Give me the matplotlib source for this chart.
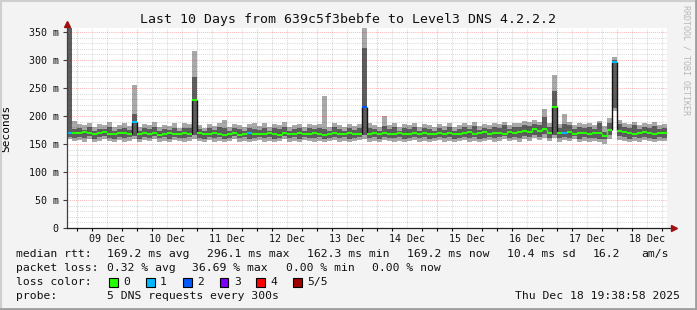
import numpy as np
import matplotlib
matplotlib.use('Agg')
import matplotlib.pyplot as plt
import matplotlib.dates as mdates
from matplotlib.patches import Rectangle
from matplotlib.lines import Line2D

# 2-hour bins from Dec 8 20:00, values in ms
start = np.datetime64('2025-12-08T20:00')
med = [170, 170,
       169, 171, 170, 168, 169, 171, 168, 167, 169, 170, 168, 190,
       167, 169, 168, 170, 166, 168, 169, 167, 168, 169, 167, 228,
       169, 167, 168, 170, 167, 166, 168, 169, 166, 167, 170, 168,
       168, 167, 169, 168, 166, 169, 167, 168, 170, 167, 168, 169,
       168, 166, 168, 169, 167, 168, 170, 167, 168, 216, 167, 169,
       168, 170, 168, 167, 169, 168, 167, 169, 168, 170, 167, 168,
       169, 167, 170, 168, 167, 169, 171, 168, 169, 171, 168, 170,
       170, 168, 172, 169, 171, 173, 172, 176, 174, 177, 170, 216,
       169, 170, 171, 168, 169, 170, 168, 169, 170, 165, 175, 296,
       174, 172, 170, 168, 169, 171, 169, 168, 170, 169]
q1 = [163, 161,
      162, 160, 164, 159, 162, 165, 160, 159, 163, 160, 162, 165,
      159, 163, 161, 164, 160, 162, 158, 163, 161, 160, 162, 166,
      161, 159, 163, 160, 162, 159, 161, 164, 160, 162, 159, 161,
      163, 160, 162, 159, 161, 164, 160, 162, 159, 163, 161, 160,
      162, 159, 161, 163, 160, 162, 159, 161, 163, 166, 160, 162,
      159, 163, 161, 160, 162, 159, 161, 163, 160, 162, 159, 161,
      163, 160, 162, 159, 161, 163, 160, 162, 159, 161, 163, 160,
      162, 164, 161, 163, 160, 165, 162, 166, 163, 168, 161, 166,
      160, 163, 161, 164, 159, 162, 160, 161, 159, 158, 166, 215,
      165, 162, 159, 162, 160, 163, 161, 159, 162, 161]
q3 = [360, 177,
      178, 175, 180, 174, 177, 176, 181, 173, 177, 179, 175, 203,
      173, 178, 176, 181, 174, 177, 175, 179, 173, 179, 178, 270,
      177, 173, 179, 175, 180, 178, 174, 178, 176, 174, 179, 176,
      175, 179, 173, 178, 176, 181, 174, 177, 179, 174, 178, 176,
      179, 177, 174, 180, 176, 173, 179, 175, 178, 322, 179, 176,
      174, 182, 177, 181, 173, 178, 176, 180, 174, 179, 177, 173,
      178, 175, 181, 174, 177, 180, 176, 182, 175, 179, 177, 181,
      179, 183, 177, 181, 180, 184, 182, 186, 183, 198, 181, 245,
      178, 186, 183, 176, 181, 178, 180, 177, 187, 172, 187, 300,
      185, 181, 179, 183, 177, 181, 178, 182, 176, 179]
lo = [158, 155,
      157, 154, 158, 153, 156, 159, 155, 153, 157, 154, 156, 158,
      153, 157, 155, 158, 154, 156, 153, 157, 155, 154, 156, 158,
      155, 153, 157, 154, 156, 153, 155, 158, 154, 156, 153, 155,
      157, 154, 156, 153, 155, 158, 154, 156, 153, 157, 155, 154,
      156, 153, 155, 157, 154, 156, 153, 155, 157, 158, 154, 156,
      153, 157, 155, 154, 156, 153, 155, 157, 154, 156, 153, 155,
      157, 154, 156, 153, 155, 157, 154, 156, 153, 155, 157, 154,
      156, 158, 155, 157, 154, 159, 156, 160, 157, 161, 155, 160,
      154, 157, 155, 158, 153, 156, 154, 155, 153, 150, 158, 208,
      157, 155, 153, 156, 154, 157, 155, 153, 156, 155]
hi = [360, 191,
      186, 184, 188, 181, 185, 183, 189, 180, 184, 187, 182, 255,
      180, 186, 183, 189, 181, 184, 182, 187, 179, 187, 185, 316,
      184, 179, 186, 182, 188, 193, 181, 185, 183, 180, 186, 187,
      182, 187, 180, 185, 183, 189, 181, 184, 186, 180, 185, 183,
      186, 235, 181, 187, 183, 180, 186, 182, 185, 357, 187, 183,
      181, 200, 184, 188, 180, 185, 183, 187, 181, 186, 184, 180,
      185, 182, 188, 181, 184, 187, 183, 189, 182, 186, 184, 188,
      186, 190, 184, 188, 187, 191, 189, 193, 190, 212, 188, 273,
      185, 204, 190, 183, 188, 185, 187, 184, 191, 182, 196, 305,
      192, 188, 186, 190, 184, 188, 185, 189, 183, 186]
loss = [1, 0,
        0, 0, 0, 0, 0, 0, 0, 0, 0, 0, 0, 1,
        0, 0, 0, 0, 0, 0, 0, 0, 0, 0, 0, 0,
        0, 0, 0, 0, 0, 0, 0, 0, 0, 0, 1, 0,
        0, 0, 0, 0, 0, 0, 0, 0, 0, 0, 0, 0,
        0, 0, 0, 0, 0, 0, 0, 0, 0, 2, 0, 0,
        0, 0, 0, 0, 0, 0, 0, 0, 0, 0, 0, 0,
        0, 0, 0, 0, 0, 0, 0, 0, 0, 0, 0, 0,
        0, 0, 0, 0, 0, 0, 0, 0, 0, 0, 0, 0,
        0, 1, 0, 0, 0, 0, 0, 0, 0, 0, 0, 1,
        0, 0, 0, 0, 0, 0, 0, 0, 0, 0]

loss_labels = ['0', '1', '2', '3', '4', '5/5']
loss_colors = ['#26ff00', '#00b8ff', '#0059ff', '#7e00ff', '#ff0000', '#a10000']
day_labels = ['09 Dec', '10 Dec', '11 Dec', '12 Dec', '13 Dec',
              '14 Dec', '15 Dec', '16 Dec', '17 Dec', '18 Dec']
ytick_vals = [0, 50, 100, 150, 200, 250, 300, 350]

W, H = 697, 310
MONO = 'DejaVu Sans Mono'
plt.rcParams['font.family'] = MONO


def px(x):
    return x / W


def py(y):
    return 1 - y / H


fig = plt.figure(figsize=(W / 100, H / 100), dpi=100, facecolor='#f3f3f3')
ax = fig.add_axes([px(67), py(228), px(600), (228 - 28) / H])
ax.set_facecolor('white')

n = len(med)
t = mdates.date2num(start + np.arange(n) * np.timedelta64(2, 'h'))
w = 2 / 24
te = np.append(t, t[-1] + w)


def ext(v):
    v = np.asarray(v, dtype=float)
    return np.append(v, v[-1])


# smoke
ax.fill_between(te, ext(lo), ext(hi), step='post', color='#a9a9a9', lw=0, zorder=1)
ax.fill_between(te, ext(q1), ext(q3), step='post', color='#5e5e5e', lw=0, zorder=2)

# median line
medv = np.asarray(med, dtype=float)
jump = np.abs(np.diff(medv))
vcol = ['#151515' if j > 15 else '#26ff00' for j in jump]
ax.vlines(t[1:], medv[:-1], medv[1:], colors=vcol, lw=1.0, zorder=4)
ax.hlines(medv, t, t + w, colors=[loss_colors[l] for l in loss], lw=1.5, zorder=5)

x0 = mdates.date2num(start)
ax.set_xlim(x0, x0 + 10)
ax.set_ylim(0, 357)

# grid (drawn over the smoke)
for k in range(0, 41):
    xv = x0 + 4 / 24 + k * 0.25
    if xv >= x0 + 10:
        break
    major = (k % 4 == 0)
    ax.axvline(xv, color='#ff0000' if major else '#000000',
               alpha=0.28 if major else 0.14, lw=0.75, ls=(0, (1, 1)), zorder=3)
for yv in range(10, 351, 10):
    major = (yv % 50 == 0)
    ax.axhline(yv, color='#ff0000' if major else '#000000',
               alpha=0.28 if major else 0.14, lw=0.75, ls=(0, (1, 1)), zorder=3)

for s in ax.spines.values():
    s.set_visible(False)

# axis lines and arrows
ax.plot([0, 0], [0, 1.01], transform=ax.transAxes, color='#404040', lw=0.9,
        clip_on=False, zorder=6)
ax.plot([0, 1.008], [0, 0], transform=ax.transAxes, color='#202020', lw=0.9,
        clip_on=False, zorder=6)
ax.plot([0], [1.02], marker='^', ms=5, color='#a01010', transform=ax.transAxes,
        clip_on=False, zorder=7)
ax.plot([1.012], [0], marker='>', ms=5, color='#a01010', transform=ax.transAxes,
        clip_on=False, zorder=7)

# ticks
ax.set_yticks(ytick_vals, ['0'] + [f'{v} m' for v in ytick_vals[1:]])
ax.tick_params(axis='y', length=3, width=0.8, color='#404040', pad=3,
               labelsize=7.2, labelcolor='#111111')
noons = x0 + 16 / 24 + np.arange(10)
ax.set_xticks(noons, day_labels)
ax.tick_params(axis='x', which='major', length=0, pad=4, labelsize=7.2,
               labelcolor='#111111')
minors = x0 + 4 / 24 + np.arange(40) * 0.25
ax.set_xticks(minors, minor=True)
ax.tick_params(axis='x', which='minor', length=2, width=0.8)
for i, tk in enumerate(ax.xaxis.get_minor_ticks()):
    tk.tick1line.set_color('#e05050' if i % 4 == 0 else '#b0b0b0')

ax.set_ylabel('Seconds', fontsize=8, labelpad=4)
ax.yaxis.set_label_coords(px(11 - 67) / px(600), 0.5)

# title and side text
fig.text(0.5, py(19), 'Last 10 Days from 639c5f3bebfe to Level3 DNS 4.2.2.2',
         ha='center', va='center', fontsize=9.5, color='#111111')
fig.text(px(686), py(60), 'RRDTOOL / TOBI OETIKER', rotation=270, ha='center',
         va='center', fontsize=6, color='#b8b8b8')

# legend rows
fs = 8.2
row1 = [(16, 'median rtt:'), (107, '169.2 ms avg'), (207, '296.1 ms max'),
        (307, '162.3 ms min'), (407.5, '169.2 ms now'), (507, '10.4 ms sd'),
        (592.5, '16.2'), (641.5, 'am/s')]
row2 = [(16, 'packet loss:'), (107, '0.32 % avg'), (192.5, '36.69 % max'),
        (286, '0.00 % min'), (372, '0.00 % now')]
for x, s in row1:
    fig.text(px(x), py(254), s, ha='left', va='center', fontsize=fs, color='#111111')
for x, s in row2:
    fig.text(px(x), py(268), s, ha='left', va='center', fontsize=fs, color='#111111')

fig.text(px(16), py(282), 'loss color:', ha='left', va='center', fontsize=fs,
         color='#111111')
box_x = [109, 146, 183, 220, 256, 293]
for bx, lab, c in zip(box_x, loss_labels, loss_colors):
    fig.add_artist(Rectangle((px(bx), py(286.5)), px(8.5), 8.5 / H, facecolor=c,
                             edgecolor='black', lw=0.8, transform=fig.transFigure))
    fig.text(px(bx + 14), py(282), lab, ha='left', va='center', fontsize=fs,
             color='#111111')

fig.text(px(16), py(296), 'probe:', ha='left', va='center', fontsize=fs, color='#111111')
fig.text(px(107), py(296), '5 DNS requests every 300s', ha='left', va='center',
         fontsize=fs, color='#111111')
fig.text(px(680), py(296), 'Thu Dec 18 19:38:58 2025', ha='right', va='center',
         fontsize=fs, color='#111111')

# frame shading
fig.add_artist(Line2D([0, 1], [py(0.5), py(0.5)], color='#cfcfcf', lw=1.5))
fig.add_artist(Line2D([px(0.5), px(0.5)], [0, 1], color='#cfcfcf', lw=1.5))
fig.add_artist(Line2D([0, 1], [py(309), py(309)], color='#9e9e9e', lw=2))
fig.add_artist(Line2D([px(696), px(696)], [0, 1], color='#9e9e9e', lw=2))

fig.savefig('out.png', dpi=100, facecolor=fig.get_facecolor())
